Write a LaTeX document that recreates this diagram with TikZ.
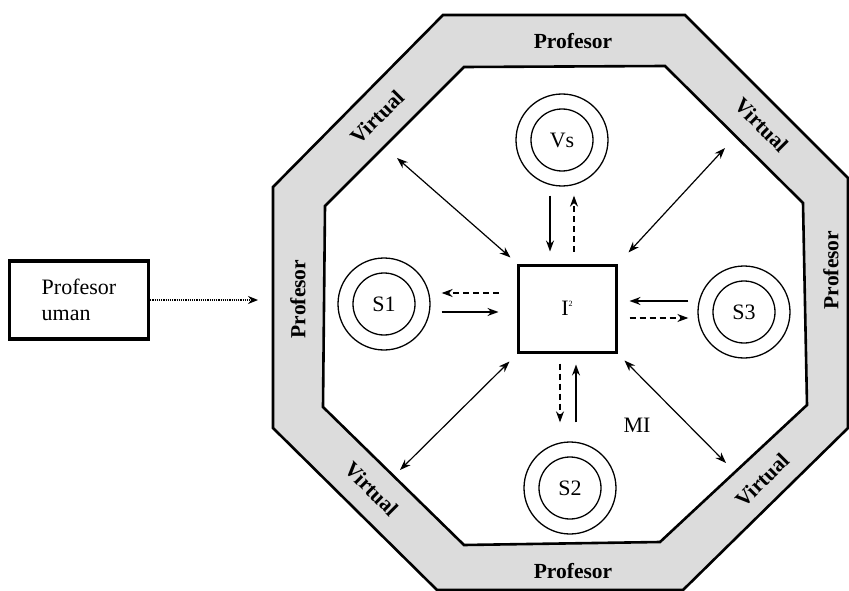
\documentclass[tikz,border=0pt]{standalone}
\usepackage{fontspec}
\setmainfont{Liberation Serif}
\usepackage{tikz}
\usetikzlibrary{arrows.meta}
\definecolor{bandgray}{RGB}{220,220,220}

\begin{document}
\begin{tikzpicture}[x=1pt, y=-1pt,
  band/.style={draw, line width=2.6pt, line join=miter},
  ring/.style={circle, draw, line width=1.3pt, minimum size=92pt, inner sep=0pt},
  sidelabel/.style={font=\fontsize{21.5}{25}\selectfont\bfseries},
  flow/.style={line width=1.4pt, -{Stealth[length=11pt,width=8pt]}},
  back/.style={flow, dash pattern=on 6pt off 4pt},
  link/.style={line width=1.2pt, {Stealth[length=11pt,width=8pt]}-{Stealth[length=11pt,width=8pt]}},
  every node/.style={font=\fontsize{22}{26}\selectfont}
]
\fill[white] (0,0) rectangle (849,591);
\useasboundingbox (0,0) rectangle (849,591);

\draw[band, fill=bandgray] (443,15) -- (685,15) -- (848,178) -- (848,428) -- (683,590) -- (437,590) -- (273,428) -- (273,187) -- cycle;
\draw[band, fill=white] (464,67) -- (665,66) -- (803,203) -- (807,405) -- (660,542) -- (464,545) -- (323,407) -- (325,206) -- cycle;

\node[sidelabel] (ptop) at (573,41) {Profesor};
\node[sidelabel] (pbot) at (573,571) {Profesor};
\node[sidelabel, rotate=90] (pleft) at (298,299) {Profesor};
\node[sidelabel, rotate=90] (pright) at (831,270) {Profesor};
\node[sidelabel, rotate=45] (vtl) at (377,117) {Virtual};
\node[sidelabel, rotate=-45] (vtr) at (762,125) {Virtual};
\node[sidelabel, rotate=-45] (vbl) at (372,489) {Virtual};
\node[sidelabel, rotate=45] (vbr) at (762,480) {Virtual};

\node[draw, line width=3pt, minimum width=98pt, minimum height=87pt] (sq) at (567,308.5) {I\raisebox{9pt}{\fontsize{8}{8}\selectfont 2}};
\node[ring] (vs) at (562,140) {Vs};
\node[ring] (s1) at (384,304) {S1};
\node[ring] (s3) at (744,312) {S3};
\node[ring] (s2) at (570,488) {S2};
\foreach \n in {vs,s1,s2,s3}
  \draw[line width=1.3pt] (\n) circle[radius=31pt];

\node[anchor=center] (mi) at (637,425) {MI};

\node[draw, line width=3.2pt, minimum width=139pt, minimum height=78pt, align=left] (hum) at (79,300) {Profesor\\uman};
\coordinate (hin) at (258,300);
\draw[line width=1.2pt, densely dotted, -{Stealth[length=10pt,width=8pt]}] (hum.east) -- (hin);

\draw[flow, shorten <=9pt, shorten >=12pt] ([xshift=-12pt]vs.south) -- ([xshift=-12pt]vs.south |- sq.north);
\draw[back, shorten <=12pt, shorten >=9pt] ([xshift=12pt]vs.south |- sq.north) -- ([xshift=12pt]vs.south);

\draw[back, shorten <=18pt, shorten >=11pt] ([yshift=11pt]s1.east -| sq.west) -- ([yshift=11pt]s1.east);
\draw[flow, shorten <=11pt, shorten >=18pt] ([yshift=-8pt]s1.east) -- ([yshift=-8pt]s1.east -| sq.west);

\draw[flow, shorten <=9pt, shorten >=12pt] ([yshift=11pt]s3.west) -- ([yshift=11pt]s3.west -| sq.east);
\draw[back, shorten <=12pt, shorten >=9pt] ([yshift=-6pt]s3.west -| sq.east) -- ([yshift=-6pt]s3.west);

\draw[back, shorten <=10pt, shorten >=19pt] ([xshift=-10pt]s2.north |- sq.south) -- ([xshift=-10pt]s2.north);
\draw[flow, shorten <=19pt, shorten >=11pt] ([xshift=6pt]s2.north) -- ([xshift=6pt]s2.north |- sq.south);

\coordinate (tl) at (397,158);
\coordinate (tr) at (725,148);
\coordinate (bl) at (400,470);
\coordinate (br) at (726,463);
\draw[link] (tl) -- ([xshift=-6pt,yshift=6pt]sq.north west);
\draw[link] (tr) -- ([xshift=11pt,yshift=11pt]sq.north east);
\draw[link] (bl) -- ([xshift=-7pt,yshift=-8pt]sq.south west);
\draw[link] (br) -- ([xshift=7pt,yshift=-7pt]sq.south east);

\end{tikzpicture}
\end{document}
